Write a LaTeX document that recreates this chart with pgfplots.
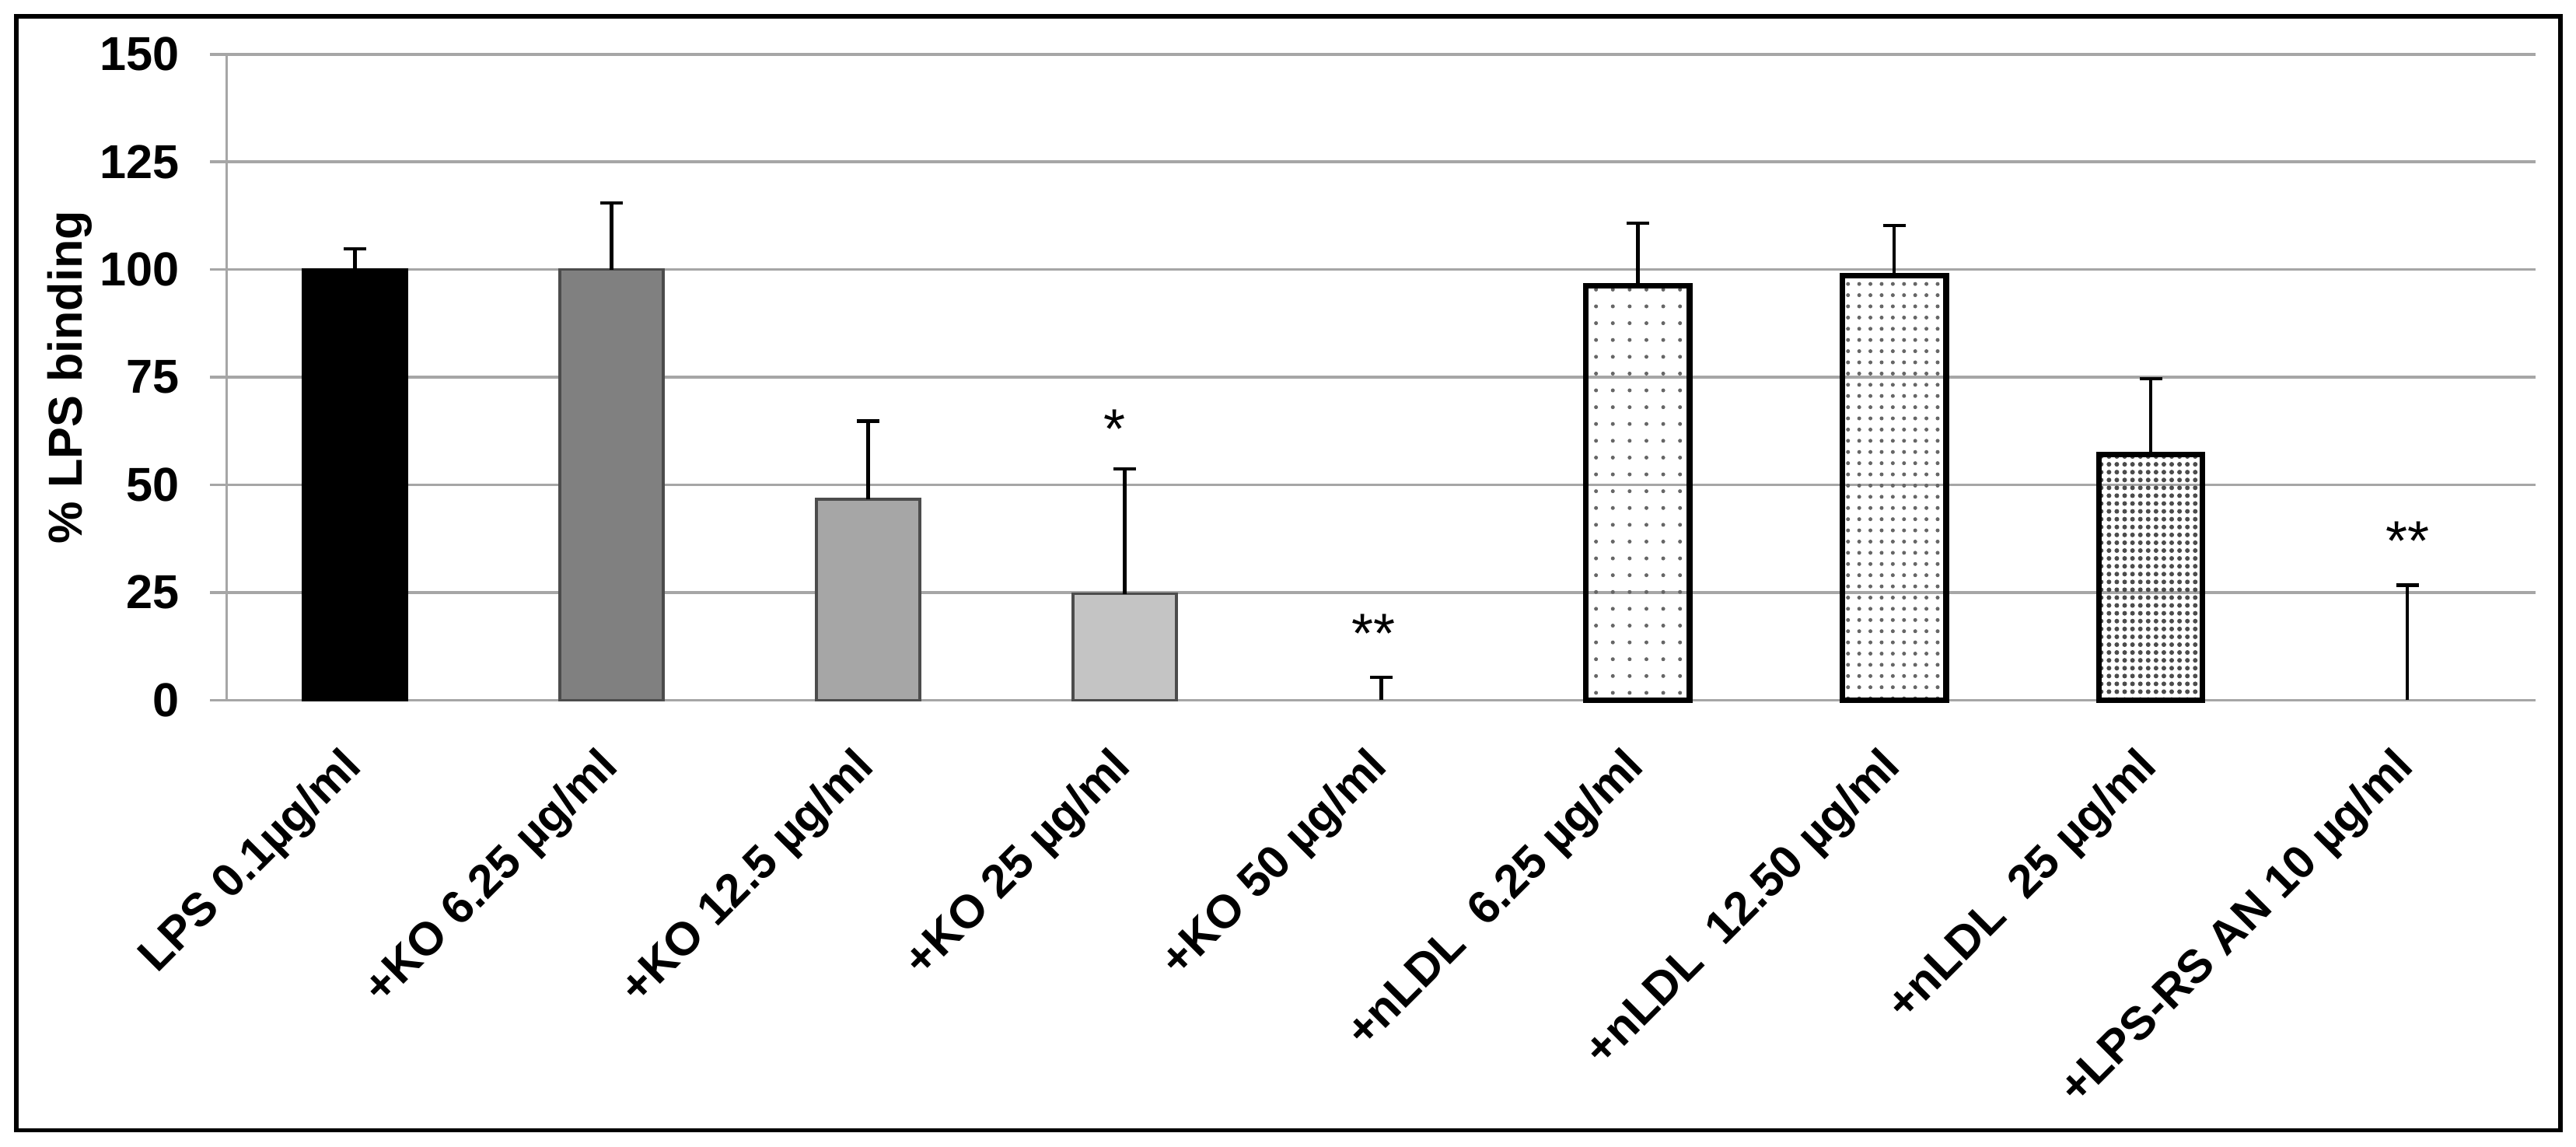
\documentclass[border=0pt]{standalone}
\usepackage{pgfplots}
\pgfplotsset{compat=1.18}
\usepackage{fontspec}
\setmainfont{Liberation Sans}
\usetikzlibrary{patterns.meta}
\begin{document}
\begin{tikzpicture}
\useasboundingbox (0pt,0pt) rectangle (460pt,204.7pt);
\draw[line width=0.8pt] (2.9pt,2.9pt) rectangle (457.2pt,201.8pt);
\begin{axis}[
  at={(40.5pt,79.7pt)}, anchor=south west,
  scale only axis, width=412.3pt, height=115.3pt,
  xmin=-0.5, xmax=8.5, ymin=0, ymax=150,
  ytick={0,25,50,75,100,125,150},
  xtick={0,1,2,3,4,5,6,7,8},
  xticklabels={LPS 0.1µg/ml, +KO 6.25 µg/ml, +KO 12.5 µg/ml, +KO 25 µg/ml, +KO 50 µg/ml, +nLDL\ \ 6.25 µg/ml, +nLDL\ \ 12.50 µg/ml, +nLDL\ \ 25 µg/ml, +LPS-RS AN 10 µg/ml},
  axis lines*=left,
  axis line style={gray!70, line width=0.5pt},
  ymajorgrids, major grid style={gray!70, line width=0.5pt},
  tick align=outside, major tick length=3pt,
  ytick style={gray!70, line width=0.5pt},
  xtick style={draw=none},
  /pgf/number format/assume math mode=true,
  yticklabel style={font=\fontsize{8.5}{10}\selectfont\bfseries, xshift=-2pt},
  xticklabel style={font=\fontsize{8.3}{10}\selectfont\bfseries, rotate=45, anchor=north east, xshift=-2pt, yshift=2pt},
  ylabel={\% LPS binding},
  ylabel style={font=\fontsize{8.5}{10}\selectfont\bfseries, at={(axis description cs:0,0.5)}, anchor=center, yshift=28pt},
  clip=false,
]
\pgfplotsset{
  mybar/.style={ybar, bar width=18.5pt, bar shift=0pt,
    /pgfplots/error bars/y dir=plus, /pgfplots/error bars/y explicit,
    /pgfplots/error bars/error bar style={black, line width=0.6pt},
    /pgfplots/error bars/error mark options={rotate=90, mark size=2pt, black, line width=0.6pt}},
}
\addplot[mybar, fill=black, draw=black, line width=0.5pt] coordinates {(0,100) +- (0,4.8)};
\addplot[mybar, fill=black!50, draw=black!70, line width=0.5pt] coordinates {(1,100) +- (0,15.5)};
\addplot[mybar, fill=black!35, draw=black!70, line width=0.5pt] coordinates {(2,46.7) +- (0,18.1)};
\addplot[mybar, fill=black!23, draw=black!70, line width=0.5pt] coordinates {(3,24.7) +- (0,29)};
\addplot[mybar, draw=none] coordinates {(4,0) +- (0,5.3)};
\addplot[mybar, draw=black, line width=1pt, pattern={Dots[distance=3pt, radius=0.35pt]}, pattern color=black!60] coordinates {(5,96.3) +- (0,14.5)};
\addplot[mybar, draw=black, line width=1pt, pattern={Dots[distance=2pt, radius=0.35pt]}, pattern color=black!60] coordinates {(6,98.6) +- (0,11.7)};
\addplot[mybar, draw=black, line width=1pt, pattern={Dots[distance=1.4pt, radius=0.42pt]}, pattern color=black!70] coordinates {(7,57.1) +- (0,17.6)};
\addplot[mybar, draw=none] coordinates {(8,0) +- (0,26.7)};
\node[font=\fontsize{10}{12}\selectfont] at (axis cs:2.96,63) {*};
\node[font=\fontsize{10}{12}\selectfont] at (axis cs:3.97,15.5) {**};
\node[font=\fontsize{10}{12}\selectfont] at (axis cs:8,37) {**};
\end{axis}
\end{tikzpicture}
\end{document}
